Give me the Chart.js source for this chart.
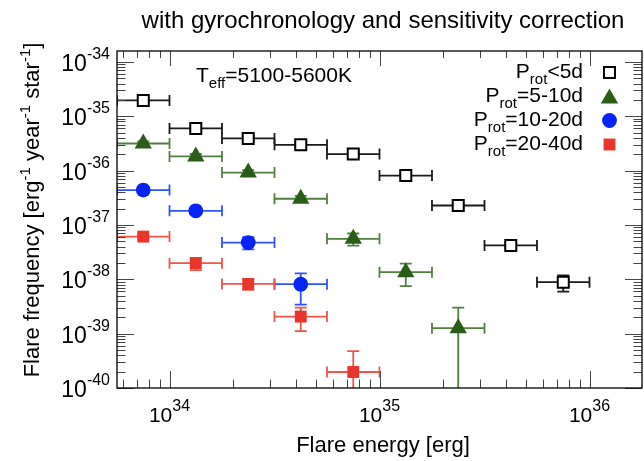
<!DOCTYPE html>
<html>
<head>
<meta charset="utf-8">
<script src="https://cdn.jsdelivr.net/npm/chart.js@4/dist/chart.umd.min.js"></script>
<style>
  html, body { margin: 0; padding: 0; background: #fff; overflow: hidden; }
  #c { display: block; }
</style>
</head>
<body>
<canvas id="c" width="652" height="461"></canvas>
<script>
// energy bins (0.25 dex wide)
const energyMid = [7.50e33, 1.334e34, 2.371e34, 4.217e34, 7.50e34, 1.334e35, 2.371e35, 4.217e35, 7.50e35];
const energyLo  = [5.623e33, 1.0e34, 1.778e34, 3.162e34, 5.623e34, 1.0e35, 1.778e35, 3.162e35, 5.623e35];
const energyHi  = [1.0e34, 1.778e34, 3.162e34, 5.623e34, 1.0e35, 1.778e35, 3.162e35, 5.623e35, 1.0e36];

// flare frequency per rotation-period group
const prot5     = [1.95e-35, 5.96e-36, 3.9e-36, 2.98e-36, 2.01e-36, 8.1e-37, 2.28e-37, 4.2e-38, 8.85e-39];
const prot5Err  = [1.5e-36, 6e-37, 4e-37, 3e-37, 2e-37, 8e-38, 2.5e-38, 5e-39, 2.9e-39];
const prot10    = [3.15e-36, 1.82e-36, 9.2e-37, 3.03e-37, 5.55e-38, 1.35e-38, 1.26e-39];
const prot10Err = [3e-37, 2e-37, 1e-37, 4e-38, 1.4e-38, 6e-39, 1.75e-39];
const prot20    = [4.38e-37, 1.82e-37, 4.74e-38, 8.13e-39];
const prot20Err = [4e-38, 2e-38, 1.2e-38, 4.7e-39];
const prot40    = [6.1e-38, 1.98e-38, 8.2e-39, 2.06e-39, 1.97e-40];
const prot40Err = [5e-39, 5e-39, 1.8e-39, 0.95e-39, 2.8e-40];

const xDecades = [34, 35, 36];
const yDecades = [-34, -35, -36, -37, -38, -39, -40];

const FONT = '"Liberation Sans", Arial, Helvetica, sans-serif';

const series = [
  {name: '<5d',    y: prot5,  err: prot5Err,  style: 'rect',     radius: 7.8, fill: '#ffffff', line: '#000000', bw: 2,  bar: '#1a1a1a'},
  {name: '=5-10d', y: prot10, err: prot10Err, style: 'triangle', radius: 10,  fill: '#2a5e16', line: '#2a5e16', bw: 0,  bar: '#4f8040'},
  {name: '=10-20d',y: prot20, err: prot20Err, style: 'circle',   radius: 7.4, fill: '#0524f5', line: '#0524f5', bw: 0,  bar: '#2d55ff'},
  {name: '=20-40d',y: prot40, err: prot40Err, style: 'rect',     radius: 8.4, fill: '#e8372a', line: '#e8372a', bw: 0,  bar: '#f25548'}
];

function pts(ys) {
  return ys.map((v, i) => ({x: energyMid[i], y: v}));
}

// draws text pieces [text, size, dy] starting at x
function drawPieces(ctx, pieces, x, y) {
  let cx = x;
  pieces.forEach(p => {
    ctx.font = p[1] + 'px ' + FONT;
    ctx.fillText(p[0], cx, y + (p[2] || 0));
    cx += ctx.measureText(p[0]).width;
  });
  return cx;
}
function piecesWidth(ctx, pieces) {
  let w = 0;
  pieces.forEach(p => { ctx.font = p[1] + 'px ' + FONT; w += ctx.measureText(p[0]).width; });
  return w;
}

const errorBars = {
  id: 'errorBars',
  beforeDatasetsDraw(chart) {
    const ctx = chart.ctx, xs = chart.scales.x, ys = chart.scales.y, a = chart.chartArea;
    ctx.save();
    ctx.beginPath();
    ctx.rect(a.left, a.top, a.right - a.left, a.bottom - a.top);
    ctx.clip();
    ctx.lineWidth = 1.8;
    series.forEach(s => {
      ctx.strokeStyle = s.bar;
      s.y.forEach((v, i) => {
        const px = xs.getPixelForValue(energyMid[i]);
        const py = ys.getPixelForValue(v);
        const x0 = xs.getPixelForValue(energyLo[i]);
        const x1 = xs.getPixelForValue(energyHi[i]);
        const yTop = ys.getPixelForValue(v + s.err[i]);
        const yBot = v - s.err[i] > 0 ? ys.getPixelForValue(v - s.err[i]) : a.bottom + 10;
        ctx.beginPath();
        ctx.moveTo(x0, py); ctx.lineTo(x1, py);
        ctx.moveTo(x0, py - 5.5); ctx.lineTo(x0, py + 5.5);
        ctx.moveTo(x1, py - 5.5); ctx.lineTo(x1, py + 5.5);
        ctx.moveTo(px, yTop); ctx.lineTo(px, yBot);
        ctx.moveTo(px - 6, yTop); ctx.lineTo(px + 6, yTop);
        ctx.moveTo(px - 6, yBot); ctx.lineTo(px + 6, yBot);
        ctx.stroke();
      });
    });
    ctx.restore();
  }
};

const decor = {
  id: 'decor',
  afterDraw(chart) {
    const ctx = chart.ctx, xs = chart.scales.x, ys = chart.scales.y, a = chart.chartArea;
    ctx.save();

    // ticks on all four sides, pointing in
    ctx.strokeStyle = '#444';
    ctx.lineWidth = 1;
    ctx.beginPath();
    for (let e = 33; e <= 36; e++) {
      for (let m = 1; m <= 9; m++) {
        const v = m * Math.pow(10, e);
        if (v < xs.min || v > xs.max) continue;
        const px = Math.round(xs.getPixelForValue(v)) + 0.5;
        const len = m === 1 ? 17 : 8.5;
        ctx.moveTo(px, a.bottom); ctx.lineTo(px, a.bottom - len);
        ctx.moveTo(px, a.top); ctx.lineTo(px, a.top + (m === 1 ? 15 : 7));
      }
    }
    for (let e = -41; e <= -34; e++) {
      for (let m = 1; m <= 9; m++) {
        const v = m * Math.pow(10, e);
        if (v < ys.min || v > ys.max) continue;
        const py = Math.round(ys.getPixelForValue(v)) + 0.5;
        const len = m === 1 ? 17 : 8.5;
        ctx.moveTo(a.left, py); ctx.lineTo(a.left + len, py);
        ctx.moveTo(a.right, py); ctx.lineTo(a.right - len, py);
      }
    }
    ctx.stroke();

    // frame
    ctx.strokeStyle = '#000';
    ctx.lineWidth = 1.3;
    ctx.strokeRect(a.left, a.top, a.right - a.left, a.bottom - a.top);

    ctx.fillStyle = '#000';
    ctx.textBaseline = 'alphabetic';
    ctx.textAlign = 'left';

    // x tick labels
    xDecades.forEach(e => {
      const px = xs.getPixelForValue(Math.pow(10, e));
      const pieces = [['10', 21, 0], [String(e), 16, -11]];
      const w = piecesWidth(ctx, pieces);
      drawPieces(ctx, pieces, px - w / 2, 422);
    });

    // y tick labels
    yDecades.forEach(e => {
      const py = ys.getPixelForValue(Math.pow(10, e));
      const pieces = [['10', 23, 0], [String(e), 16, -12]];
      const w = piecesWidth(ctx, pieces);
      drawPieces(ctx, pieces, 110 - w, py + 9);
    });

    // title
    ctx.font = '24px ' + FONT;
    ctx.textAlign = 'center';
    ctx.fillText('with gyrochronology and sensitivity correction', 383, 28);

    // x axis title
    ctx.font = '22px ' + FONT;
    ctx.fillText('Flare energy [erg]', 383, 452);
    ctx.textAlign = 'left';

    // y axis title
    ctx.save();
    ctx.translate(39, 210);
    ctx.rotate(-Math.PI / 2);
    const yt = [['Flare frequency [erg', 22, 0], ['-1', 15, -9], [' year', 22, 0], ['-1', 15, -9],
                [' star', 22, 0], ['-1', 15, -9], [']', 22, 0]];
    drawPieces(ctx, yt, -piecesWidth(ctx, yt) / 2, 0);
    ctx.restore();

    // temperature label
    drawPieces(ctx, [['T', 21, 0], ['eff', 15, 6], ['=5100-5600K', 21, 0]], 196, 82);

    // legend
    series.forEach((s, i) => {
      const base = 77.5 + i * 24;
      const pieces = [['P', 21, 0], ['rot', 15, 6], [s.name, 21, 0]];
      const w = piecesWidth(ctx, pieces);
      ctx.fillStyle = '#000';
      drawPieces(ctx, pieces, 583 - w, base);
      ctx.fillStyle = s.fill;
      ctx.strokeStyle = s.line;
      ctx.lineWidth = s.bw;
      Chart.helpers.drawPoint(ctx, {pointStyle: s.style, radius: s.radius, borderWidth: s.bw, rotation: 0}, 609.5, base - 5 + (s.style === 'triangle' ? 2 : 0));
    });

    ctx.restore();
  }
};

new Chart(document.getElementById('c'), {
  type: 'scatter',
  data: {
    datasets: series.map(s => ({
      label: 'Prot' + s.name,
      data: pts(s.y),
      pointStyle: s.style,
      pointRadius: s.radius,
      pointBackgroundColor: s.fill,
      pointBorderColor: s.line,
      pointBorderWidth: s.bw,
      showLine: false
    }))
  },
  options: {
    responsive: false,
    animation: false,
    layout: {padding: {left: 117, top: 51, right: 2, bottom: 73}},
    plugins: {legend: {display: false}, tooltip: {enabled: false}, title: {display: false}},
    scales: {
      x: {type: 'logarithmic', min: Math.pow(10, 33.75), max: Math.pow(10, 36.25), display: false},
      y: {type: 'logarithmic', min: 1e-40, max: Math.pow(10, -33.8), display: false}
    }
  },
  plugins: [errorBars, decor]
});
</script>
</body>
</html>
